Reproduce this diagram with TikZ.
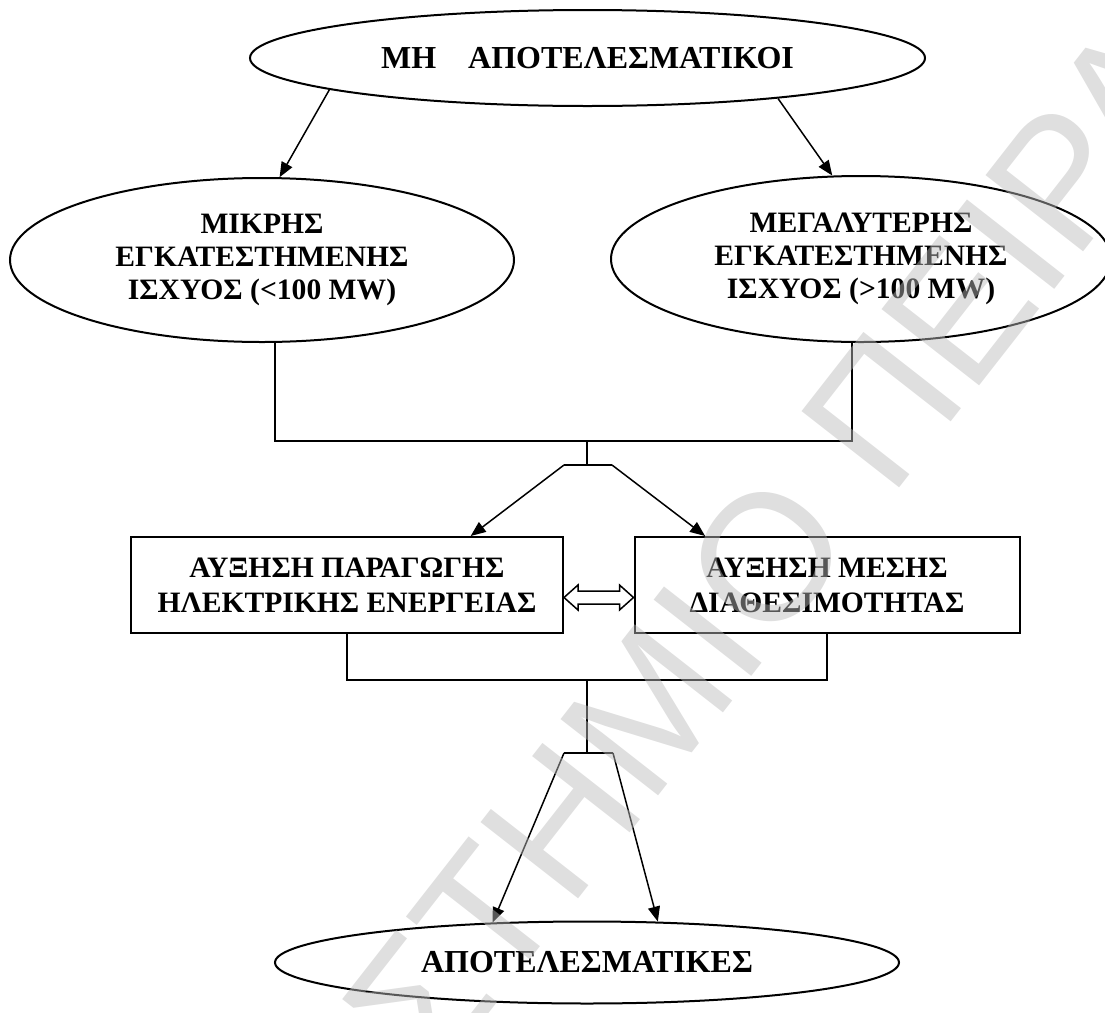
\documentclass[tikz,border=0pt]{standalone}
\usepackage{fontspec}
\setmainfont{Liberation Serif}
\newfontfamily\markfont{Liberation Sans}
\usetikzlibrary{arrows.meta,calc,shapes.geometric}
\begin{document}
\begin{tikzpicture}[x=0.5pt,y=-0.5pt,
  oval/.style={ellipse, draw, line width=1pt, inner sep=0pt, align=center,
    font=\bfseries\fontsize{14.8}{16.6}\selectfont},
  bigoval/.style={oval, font=\bfseries\fontsize{16}{18}\selectfont},
  box/.style={rectangle, draw, line width=1pt, inner sep=0pt, align=center,
    font=\bfseries\fontsize{14.8}{17.5}\selectfont},
  link/.style={line width=0.75pt},
  arr/.style={link, -{Triangle[length=7.5pt,width=6pt]}},
  stamp/.style={inner sep=0pt, rotate=52, text=black!27, text opacity=0.47,
    font=\markfont\fontsize{90}{90}\selectfont},
]
\useasboundingbox (0,0) rectangle (1105,1013);

% main nodes
\node[bigoval, minimum width=337.5pt, minimum height=48pt] (top) at (587.5,58)
  {ΜΗ\hspace{1em}ΑΠΟΤΕΛΕΣΜΑΤΙΚΟΙ};
\node[oval, minimum width=252pt, minimum height=82pt] (small) at (262,260)
  {ΜΙΚΡΗΣ\\ΕΓΚΑΤΕΣΤΗΜΕΝΗΣ\\ΙΣΧΥΟΣ (<100 MW)};
\node[oval, minimum width=250pt, minimum height=83pt] (large) at (861,259)
  {ΜΕΓΑΛΥΤΕΡΗΣ\\ΕΓΚΑΤΕΣΤΗΜΕΝΗΣ\\ΙΣΧΥΟΣ (>100 MW)};
\node[box, minimum width=216pt, minimum height=48pt] (prod) at (347,585)
  {ΑΥΞΗΣΗ ΠΑΡΑΓΩΓΗΣ\\ΗΛΕΚΤΡΙΚΗΣ ΕΝΕΡΓΕΙΑΣ};
\node[box, minimum width=192.5pt, minimum height=48pt] (avail) at (827,585)
  {ΑΥΞΗΣΗ ΜΕΣΗΣ\\ΔΙΑΘΕΣΙΜΟΤΗΤΑΣ};
\node[bigoval, minimum width=312pt, minimum height=41pt] (eff) at (587,962.5)
  {ΑΠΟΤΕΛΕΣΜΑΤΙΚΕΣ};

% junction points
\coordinate (j1) at (587,441);
\coordinate (s1) at (587,465);
\coordinate (s1l) at (564,465);
\coordinate (s1r) at (612,465);
\coordinate (j2) at (587,680);
\coordinate (s2) at (587,753);
\coordinate (s2l) at (564,753);
\coordinate (s2r) at (613,753);

% top ellipse to the two capacity classes
\draw[arr] (top.187.2) -- (small.78);
\draw[arr] (top.348.2) -- (large.109.9);

% merge and split towards the boxes
\draw[link] (small.-81) |- (j1) -| (large.-96.9);
\draw[link] (j1) -- (s1);
\draw[link] (s1l) -- (s1r);
\draw[arr] (s1l) -- ($(prod.north west)!0.785!(prod.north east)$);
\draw[arr] (s1r) -- ($(avail.north west)!0.185!(avail.north east)$);

% double block arrow between the boxes
\coordinate (dl) at ($(prod.east)+(0,12.5)$);
\coordinate (dr) at ($(avail.west)+(0,12.5)$);
\draw[link, fill=white] (dl) -- ++(14,-12.5) -- ++(0,6) -- ($(dr)+(-14,-6.5)$)
  -- ++(0,-6) -- (dr) -- ++(-14,12.5) -- ++(0,-6) -- ($(dl)+(14,6.5)$)
  -- ++(0,6) -- cycle;

% merge and split towards the bottom ellipse
\draw[link] (prod.south) |- (j2) -| (avail.south);
\draw[link] (j2) -- (s2);
\draw[link] (s2l) -- (s2r);
\draw[arr] (s2l) -- (eff.157.2);
\draw[arr] (s2r) -- (eff.30);

% diagonal stamp across the page
\node[stamp, anchor=base east] (wm1) at (859,539.5) {ΠΑΝΕΠΙΣΤΗΜΙΟ};
\node[stamp, anchor=base west] (wm2) at (890,500) {ΠΕΙΡΑΙΩΣ};
\end{tikzpicture}
\end{document}
